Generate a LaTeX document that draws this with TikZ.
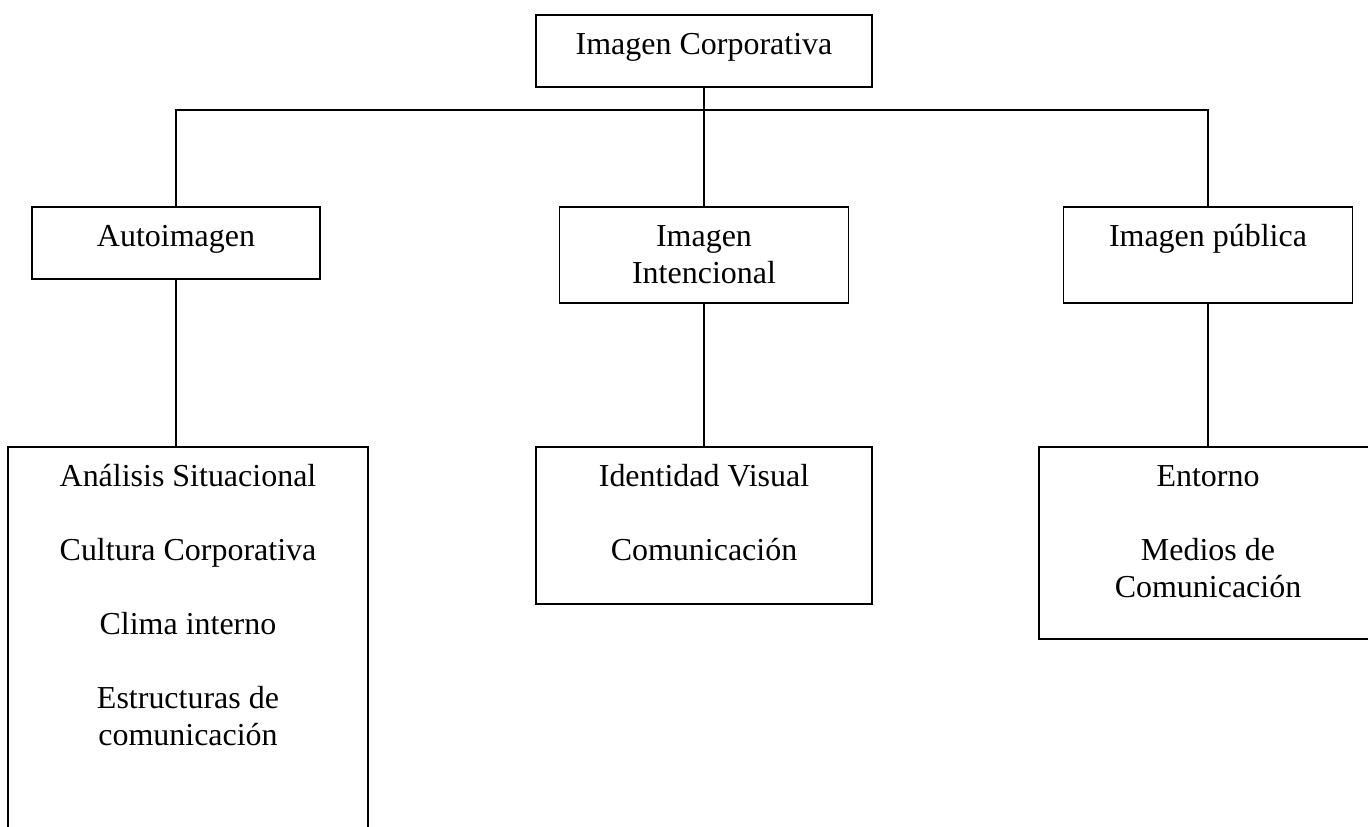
\documentclass[tikz,border=0pt]{standalone}
\usepackage{fontspec}
\setmainfont{Liberation Serif}
\usetikzlibrary{positioning}

% fixed-size text block, first baseline 0.8cm below the top edge
\newcommand{\boxtext}[3]{\parbox[t][#2][t]{#1}{\centering\rule{0pt}{0.8cm}#3}}

\begin{document}
\begin{tikzpicture}[
  x=0.02cm, y=-0.02cm,
  box/.style={draw, line width=0.9pt, anchor=north, inner sep=0pt, font=\fontsize{18.2}{21}\selectfont},
  link/.style={line width=0.9pt}
]
\clip (0,0) rectangle (1368,827);

\node[box] (corp) at (704,14) {\boxtext{6.72cm}{1.44cm}{Imagen Corporativa}};

\node[box] (auto) at (176,206) {\boxtext{5.76cm}{1.44cm}{Autoimagen}};
\node[box] (intenc) at (704,206) {\boxtext{5.78cm}{1.92cm}{Imagen\\Intencional}};
\node[box] (pub) at (1208,206) {\boxtext{5.78cm}{1.92cm}{Imagen pública}};

\node[box] (anal) at (188,446) {\boxtext{7.2cm}{8.8cm}{Análisis Situacional\\[\baselineskip]Cultura Corporativa\\[\baselineskip]Clima interno\\[\baselineskip]Estructuras de\\comunicación}};
\node[box] (ident) at (704,446) {\boxtext{6.72cm}{3.14cm}{Identidad Visual\\[\baselineskip]Comunicación}};
\node[box] (ent) at (1208,446) {\boxtext{6.76cm}{3.84cm}{Entorno\\[\baselineskip]Medios de\\Comunicación}};

\coordinate (split) at (704,110);

\draw[link] (corp.south) -- (intenc.north);
\draw[link] (auto.north) |- (split) -| (pub.north);
\draw[link] (auto.south) -- (auto.south |- anal.north);
\draw[link] (intenc.south) -- (ident.north);
\draw[link] (pub.south) -- (ent.north);

\end{tikzpicture}
\end{document}
